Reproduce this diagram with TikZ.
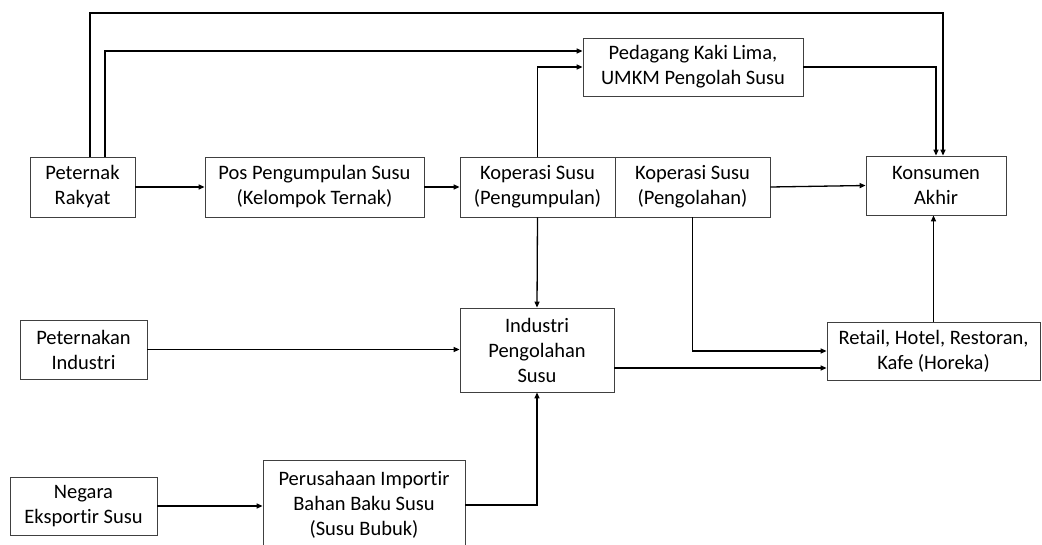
\documentclass[tikz,border=0pt]{standalone}
\usepackage{fontspec}
\setmainfont{Carlito}[Ligatures=NoCommon]
\usetikzlibrary{arrows.meta}
\begin{document}
\begin{tikzpicture}[x=1pt,y=-1pt,
  box/.style={draw=black!75, line width=0.8pt, align=center, inner sep=0pt,
    font=\fontsize{20.5}{25}\selectfont},
  conn/.style={line width=1.3pt, -{Triangle[length=6pt,width=5pt]}}]
\useasboundingbox (0,0) rectangle (1042,545);
% nodes
\node[box, minimum width=105pt, minimum height=60pt] (pr) at (82.5,187) {Peternak\\Rakyat};
\node[box, minimum width=219pt, minimum height=60pt] (pos) at (314.5,187) {Pos Pengumpulan Susu\\(Kelompok Ternak)};
\node[box, minimum width=155pt, minimum height=60pt] (kop1) at (537.5,187) {Koperasi Susu\\(Pengumpulan)};
\node[box, minimum width=155pt, minimum height=60pt] (kop2) at (692.5,187) {Koperasi Susu\\(Pengolahan)};
\node[box, minimum width=140pt, minimum height=59pt] (kon) at (936,185.5) {Konsumen\\Akhir};
\node[box, minimum width=220pt, minimum height=58pt] (ped) at (693,67) {Pedagang Kaki Lima,\\UMKM Pengolah Susu};
\node[box, minimum width=127pt, minimum height=59pt] (pi) at (83.5,349.5) {Peternakan\\Industri};
\node[box, minimum width=154pt, minimum height=84pt] (ind) at (537,350) {Industri\\Pengolahan\\Susu};
\node[box, minimum width=213pt, minimum height=58pt] (ret) at (933.5,351) {Retail, Hotel, Restoran,\\Kafe (Horeka)};
\node[box, minimum width=147pt, minimum height=58pt] (neg) at (83.5,506) {Negara\\Eksportir Susu};
\node[box, minimum width=202pt, minimum height=90pt] (per) at (364,505) {Perusahaan Importir\\Bahan Baku Susu\\(Susu Bubuk)};
% connectors
\draw[conn] (pr.east) -- (pos.west);
\draw[conn] (pos.east) -- (kop1.west);
\coordinate (t1) at (943,13);
\draw[conn] ([xshift=7.5pt]pr.north) |- (t1) -- ([xshift=7pt]kon.north);
\draw[conn] ([xshift=22.5pt]pr.north) |- ([yshift=16pt]ped.west);
\draw[conn] (kop1.north) |- (ped.west);
\draw[conn] (ped.east) -| (kon.north);
\draw[conn] (kop2.east) -- (kon.west);
\draw[conn] (kop1.south) -- (ind.north);
\draw[conn] (kop2.south) |- (ret.west);
\coordinate (a) at ([yshift=-18pt]ind.east);
\draw[conn] (a) -- (a -| ret.west);
\draw[conn] (ret.north) -- (ret.north |- kon.south);
\draw[conn] (pi.east) -- (pi.east -| ind.west);
\draw[conn] (neg.east) -- (neg.east -| per.west);
\draw[conn] (per.east) -| (ind.south);
\end{tikzpicture}
\end{document}
